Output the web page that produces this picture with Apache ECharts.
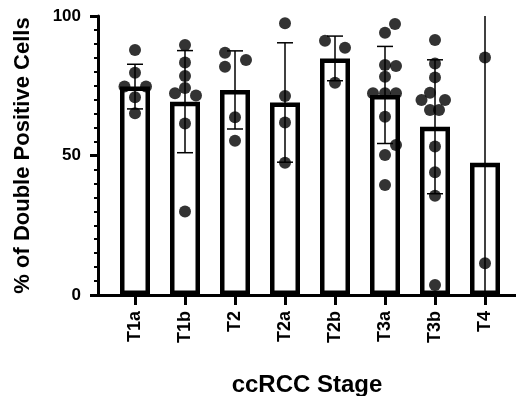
<!DOCTYPE html>
<html><head><meta charset="utf-8">
<script src="https://cdn.jsdelivr.net/npm/echarts@6/dist/echarts.min.js"></script>
<style>html,body{margin:0;padding:0;background:#fff}#c{width:516px;height:396px}</style>
</head><body><div id="c"></div>
<script>
var categories = ['T1a','T1b','T2','T2a','T2b','T3a','T3b','T4'];
var means = [74.7, 69.3, 73.5, 69.0, 84.8, 71.7, 60.3, 47.4];
var sds = [8.0, 18.3, 14.0, 21.4, 8.0, 17.4, 24.0, 53.0];
var pointsT1a = [87.8, 79.7, 74.7, 74.7, 70.9, 65.1];
var jitterT1a = [0, 0, -0.21, 0.22, 0, 0];
var pointsT1b = [89.6, 83.3, 78.5, 74.2, 72.3, 71.5, 61.5, 29.9];
var jitterT1b = [0, 0, 0, 0, -0.2, 0.22, 0, 0];
var pointsT2 = [86.8, 84.2, 81.8, 63.7, 55.3];
var jitterT2 = [-0.2, 0.22, -0.2, 0, 0];
var pointsT2a = [97.4, 71.3, 61.8, 47.4];
var jitterT2a = [0, 0, 0, 0];
var pointsT2b = [91.1, 88.6, 76.1];
var jitterT2b = [-0.2, 0.2, 0];
var pointsT3a = [97.1, 94.0, 82.4, 82.1, 78.2, 72.3, 72.3, 72.3, 63.9, 53.8, 50.2, 39.4];
var jitterT3a = [0.2, 0, 0, 0.22, 0, -0.24, 0, 0.22, 0, 0.22, 0, 0];
var pointsT3b = [91.4, 83.0, 78.0, 72.5, 69.9, 69.9, 66.3, 66.3, 53.2, 44.0, 35.6, 3.6];
var jitterT3b = [0, 0, 0, -0.1, -0.27, 0.2, -0.1, 0.08, 0, 0, 0, 0];
var pointsT4 = [85.1, 11.4];
var jitterT4 = [0, 0];
var yTicks = [0, 50, 100];

var allPoints = [pointsT1a, pointsT1b, pointsT2, pointsT2a, pointsT2b, pointsT3a, pointsT3b, pointsT4];
var allJitter = [jitterT1a, jitterT1b, jitterT2, jitterT2a, jitterT2b, jitterT3a, jitterT3b, jitterT4];

var barData = means.map(function(m, i){ return [i, m]; });
var errData = means.map(function(m, i){ return [i, m - sds[i], m + sds[i]]; });
var scatterData = [];
allPoints.forEach(function(arr, i){
  arr.forEach(function(v, j){ scatterData.push([i + allJitter[i][j], v]); });
});
var catIdx = categories.map(function(c, i){ return i; });
var FONT = '"Liberation Sans", Arial, sans-serif';
var YMIN = yTicks[0], YMAX = yTicks[yTicks.length - 1];

var chart = echarts.init(document.getElementById('c'), null, {renderer: 'canvas'});
chart.setOption({
  animation: false,
  backgroundColor: '#fff',
  grid: {left: 98, right: 0, top: 16, bottom: 101, containLabel: false, outerBoundsMode: 'none'},
  xAxis: {
    type: 'value', min: -0.74, max: 7.62,
    name: 'ccRCC Stage', nameLocation: 'middle', nameGap: 78,
    nameTextStyle: {fontFamily: FONT, fontWeight: 'bold', fontSize: 24, color: '#000'},
    axisLine: {show: true, onZero: false, lineStyle: {color: '#000', width: 3}},
    axisTick: {show: true, customValues: catIdx, length: 10, lineStyle: {color: '#000', width: 3}},
    axisLabel: {show: true, customValues: catIdx, rotate: 90, margin: 16,
      fontFamily: FONT, fontWeight: 'bold', fontSize: 18, color: '#000',
      formatter: function(v){ return categories[Math.round(v)]; }},
    splitLine: {show: false}
  },
  yAxis: {
    type: 'value', min: YMIN, max: YMAX, interval: 50,
    name: '% of Double Positive Cells', nameLocation: 'middle', nameGap: 64,
    nameTextStyle: {fontFamily: FONT, fontWeight: 'bold', fontSize: 22, color: '#000'},
    axisLine: {show: true, onZero: false, lineStyle: {color: '#000', width: 3}},
    axisTick: {show: true, length: 8, lineStyle: {color: '#000', width: 3}},
    minorTick: {show: true, splitNumber: 10, length: 4, lineStyle: {color: '#000', width: 2}},
    axisLabel: {margin: 17, fontFamily: FONT, fontWeight: 'bold', fontSize: 17, color: '#000'},
    splitLine: {show: false}, minorSplitLine: {show: false}
  },
  series: [
    {
      type: 'bar', data: barData, barWidth: 30, z: 2,
      itemStyle: {color: '#fff', borderColor: '#000', borderWidth: 4.5}
    },
    {
      type: 'custom', data: errData, z: 3,
      renderItem: function(params, api){
        var x = api.value(0), lo = api.value(1), hi = api.value(2);
        var loC = Math.max(lo, YMIN), hiC = Math.min(hi, YMAX);
        var pHi = api.coord([x, hiC]), pLo = api.coord([x, loC]);
        var st = {stroke: '#000', lineWidth: 1.5};
        var ch = [{type: 'line', shape: {x1: pHi[0], y1: pHi[1], x2: pLo[0], y2: pLo[1]}, style: st}];
        var hw = 8;
        if (hi <= YMAX) ch.push({type: 'line', shape: {x1: pHi[0]-hw, y1: pHi[1], x2: pHi[0]+hw, y2: pHi[1]}, style: st});
        if (lo >= YMIN) ch.push({type: 'line', shape: {x1: pLo[0]-hw, y1: pLo[1], x2: pLo[0]+hw, y2: pLo[1]}, style: st});
        return {type: 'group', children: ch};
      }
    },
    {
      type: 'scatter', data: scatterData, symbol: 'circle', symbolSize: 12, z: 4,
      itemStyle: {color: '#000'}
    }
  ]
});
</script></body></html>
